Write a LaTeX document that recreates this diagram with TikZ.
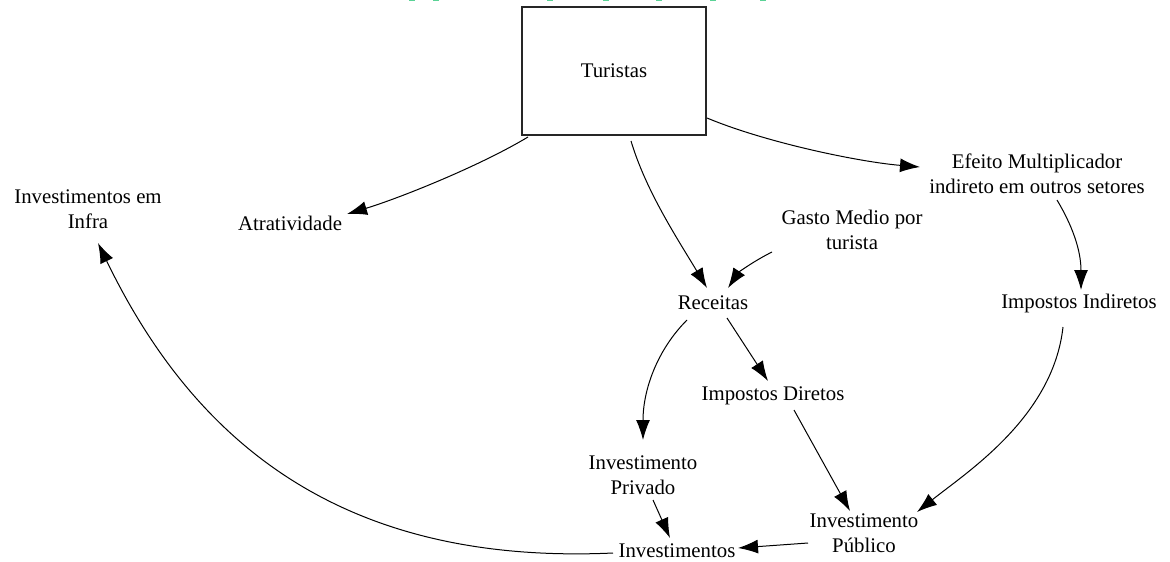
\documentclass[tikz,border=0pt]{standalone}
\usepackage{fontspec}
\setmainfont{Liberation Serif}
\newfontfamily\diagfont{Liberation Serif}
\usetikzlibrary{arrows.meta,calc}
\begin{document}
\begin{tikzpicture}[x=0.75pt,y=-0.75pt,
  lbl/.style={font=\diagfont\fontsize{15.6}{18.8}\selectfont, align=center, inner sep=0pt},
  stock/.style={draw=black!85, line width=0.8pt, minimum width=138pt, minimum height=96pt,
    font=\diagfont\fontsize{15.6}{18.8}\selectfont},
  link/.style={line width=0.75pt, -{Latex[length=15pt,width=10.5pt]}},
  pipe/.style={draw={rgb,255:red,90;green,210;blue,150}, line width=1.1pt}]
\useasboundingbox (0,0) rectangle (1170,561);

% faint flow marks along the top edge
\foreach \px in {412,436,550,606,659,713,763}
  \draw[pipe] (\px-3,0.5) -- (\px+3,0.5);

% stock
\node[stock] (tur) at (614,71) {Turistas};

% variables
\node[lbl] (atr)   at (290,223) {Atratividade};
\node[lbl] (infra) at (88,209)  {Investimentos em\\Infra};
\node[lbl] (gasto) at (852,230) {Gasto Medio por\\turista};
\node[lbl] (eff)   at (1037,174) {Efeito Multiplicador\\indireto em outros setores};
\node[lbl] (rec)   at (713,303) {Receitas};
\node[lbl] (ind)   at (1079,303) {Impostos Indiretos};
\node[lbl] (dir)   at (773,396) {Impostos Diretos};
\node[lbl] (priv)  at (643,475) {Investimento\\Privado};
\node[lbl] (pub)   at (864,533) {Investimento\\Público};
\node[lbl] (inv)   at (677,551) {Investimentos};

% causal links
\draw[link] ($(tur)+(-86,66)$) .. controls +(-50,30) and +(50,-15) .. ($(atr)+(57,-9)$);
\draw[link] ($(tur)+(17,70)$) .. controls +(15,50) and +(-30,-50) .. ($(rec)+(-6,-15)$);
\draw[link] ($(tur)+(93,47)$) .. controls +(60,25) and +(-60,-5) .. ($(eff)+(-117,-7)$);
\draw[link] ($(gasto)+(-80,22)$) .. controls +(-20,10) and +(10,-15) .. ($(rec)+(15,-15)$);
\draw[link] ($(eff)+(20,26)$) .. controls +(15,25) and +(0,-40) .. ($(ind)+(2,-13)$);
\draw[link] ($(rec)+(-26,17)$) .. controls +(-30,30) and +(0,-50) .. ($(priv)+(0,-35)$);
\draw[link] ($(rec)+(14,15)$) -- ($(dir)+(-5,-15)$);
\draw[link] ($(dir)+(21,14)$) -- ($(pub)+(-14,-22)$);
\draw[link] ($(ind)+(-16,24)$) .. controls +(-10,90) and +(50,-40) .. ($(pub)+(53,-21)$);
\draw[link] ($(priv)+(10,25)$) -- ($(inv)+(-7,-13)$);
\draw[link] ($(pub)+(-56,10)$) -- ($(inv)+(61,-3)$);
\draw[link] ($(inv)+(-64,2)$) .. controls +(-263,12) and +(100,207) .. ($(infra)+(10,34)$);
\end{tikzpicture}
\end{document}
